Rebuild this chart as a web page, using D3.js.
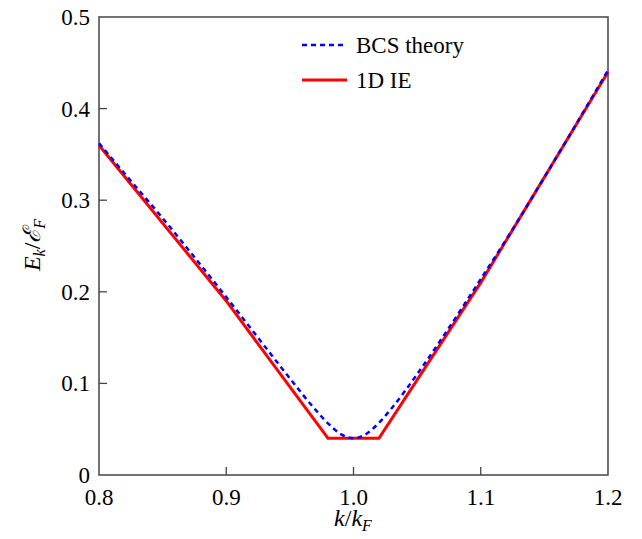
<!DOCTYPE html>
<html><head><meta charset="utf-8">
<script src="https://cdn.jsdelivr.net/npm/d3@7"></script>
</head><body style="margin:0;background:#fff">
<svg id="c" width="642" height="539"></svg>
<script>
const bcsK = [0.80,0.825,0.85,0.875,0.90,0.93,0.95,0.97,0.98,0.99,1.00,1.01,1.02,1.03,1.05,1.07,1.10,1.125,1.15,1.175,1.20];
const bcsE = [0.3622,0.3211,0.2804,0.2377,0.1942,0.1409,0.1054,0.0714,0.0563,0.0447,0.0400,0.0448,0.0569,0.0729,0.1100,0.1503,0.2138,0.2681,0.3250,0.3830,0.4418];
const ieK = [0.80,0.90,0.98,1.02,1.10,1.20];
const ieE = [0.36,0.19,0.04,0.04,0.21,0.44];
const xTicks = [0.8,0.9,1.0,1.1,1.2];
const yTicks = [0,0.1,0.2,0.3,0.4,0.5];
const legendLabels = ["BCS theory","1D IE"];

const FF = "Liberation Serif";
const svg = d3.select("#c");
const L=99,R=608,T=17,B=475;
const x = d3.scaleLinear().domain([0.8,1.2]).range([L,R]);
const y = d3.scaleLinear().domain([0,0.5]).range([B,T]);
const axisColor="#444";

svg.append("rect").attr("x",L).attr("y",T).attr("width",R-L).attr("height",B-T)
  .attr("fill","none").attr("stroke",axisColor).attr("stroke-width",1.5);

// ticks drawn from scales
const gx = svg.append("g");
xTicks.forEach(v=>{
  if(v!==0.8 && v!==1.2) gx.append("line").attr("x1",x(v)).attr("x2",x(v)).attr("y1",B).attr("y2",B-8).attr("stroke",axisColor).attr("stroke-width",1.3);
  gx.append("text").attr("x",x(v)).attr("y",B+30).attr("text-anchor","middle")
    .attr("font-family",FF).attr("font-size",23).text(d3.format(".1f")(v));
});
const gy = svg.append("g");
yTicks.forEach(v=>{
  if(v!==0 && v!==0.5) gy.append("line").attr("x1",L).attr("x2",L+8).attr("y1",y(v)).attr("y2",y(v)).attr("stroke",axisColor).attr("stroke-width",1.3);
  gy.append("text").attr("x",L-9).attr("y",y(v)+8).attr("text-anchor","end")
    .attr("font-family",FF).attr("font-size",23).text(v===0?"0":d3.format(".1f")(v));
});

const lineGen = d3.line().x(d=>x(d[0])).y(d=>y(d[1]));
const bcs = bcsK.map((k,i)=>[k,bcsE[i]]);
const ie = ieK.map((k,i)=>[k,ieE[i]]);
svg.append("path").datum(ie).attr("d",lineGen)
  .attr("fill","none").attr("stroke","#ff0000").attr("stroke-width",3).attr("stroke-linejoin","miter");
svg.append("path").datum(bcs).attr("d",d3.line().x(d=>x(d[0])).y(d=>y(d[1])).curve(d3.curveMonotoneX))
  .attr("fill","none").attr("stroke","#0000ff").attr("stroke-width",2.5).attr("stroke-dasharray","5,4");

const lg = svg.append("g");
lg.append("line").attr("x1",302).attr("x2",347).attr("y1",45).attr("y2",45)
  .attr("stroke","#0000ff").attr("stroke-width",2.5).attr("stroke-dasharray","5,4");
lg.append("line").attr("x1",302).attr("x2",347).attr("y1",80).attr("y2",80)
  .attr("stroke","#ff0000").attr("stroke-width",3);
lg.append("text").attr("x",356).attr("y",53).attr("font-family",FF).attr("font-size",23).text(legendLabels[0]);
lg.append("text").attr("x",356).attr("y",88).attr("font-family",FF).attr("font-size",23).text(legendLabels[1]);

const xt = svg.append("text").attr("x",353).attr("y",526).attr("text-anchor","middle")
  .attr("font-family",FF).attr("font-size",24);
xt.append("tspan").attr("font-style","italic").text("k");
xt.append("tspan").text("/");
xt.append("tspan").attr("font-style","italic").text("k");
xt.append("tspan").attr("font-style","italic").attr("font-size",16).attr("dy",5).text("F");

const yt = svg.append("text").attr("transform","translate(40,245) rotate(-90)").attr("text-anchor","middle")
  .attr("font-family",FF).attr("font-size",24);
yt.append("tspan").attr("font-style","italic").text("E");
yt.append("tspan").attr("font-style","italic").attr("font-size",16).attr("dy",5).text("k");
yt.append("tspan").attr("dy",-5).text("/");
yt.append("tspan").attr("font-style","italic").text("\u2130");
yt.append("tspan").attr("font-style","italic").attr("font-size",16).attr("dy",5).text("F");
</script>
</body></html>
